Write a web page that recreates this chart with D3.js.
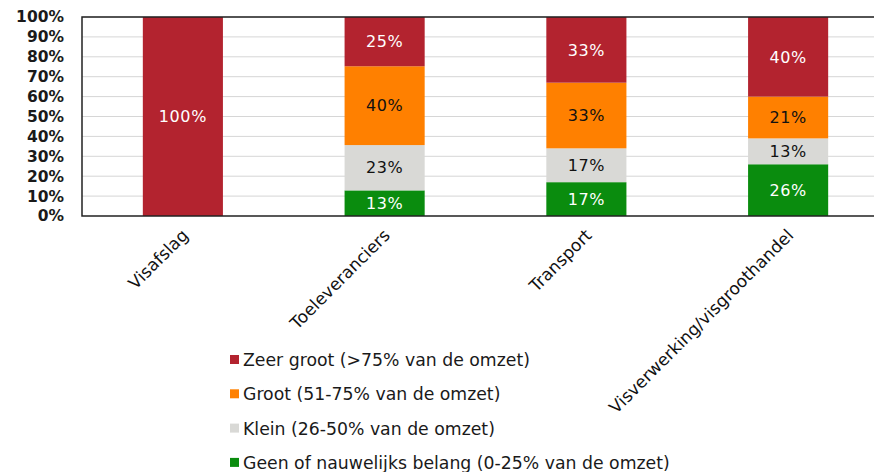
<!DOCTYPE html>
<html>
<head>
<meta charset="utf-8">
<script src="https://cdn.jsdelivr.net/npm/d3@7"></script>
<style>
  body { margin: 0; background: #fff; }
  svg { display: block; font-family: "DejaVu Sans", Verdana, sans-serif; }
</style>
</head>
<body>
<div id="chart"></div>
<script>
// categorieen en reeksen (percentages)
const categories = ["Visafslag", "Toeleveranciers", "Transport", "Visverwerking/visgroothandel"];
const seriesNames = [
    "Geen of nauwelijks belang (0-25% van de omzet)",
    "Klein (26-50% van de omzet)",
    "Groot (51-75% van de omzet)",
    "Zeer groot (>75% van de omzet)"
];
const geen = [0, 13, 17, 26];
const klein = [0, 23, 17, 13];
const groot = [0, 40, 33, 21];
const zeerGroot = [100, 25, 33, 40];
const yTicks = [0, 10, 20, 30, 40, 50, 60, 70, 80, 90, 100];

const colors = ["#0a8c0e", "#d9d9d6", "#ff8000", "#b3232f"];
const labelColors = ["#fff", "#111", "#111", "#fff"];

const width = 874, height = 472;
const plotLeft = 82, plotTop = 17, plotBottom = 216, plotRight = 889;

const svg = d3.select("#chart").append("svg")
    .attr("width", width)
    .attr("height", height);

const rows = categories.map((c, i) => ({
    cat: c, s0: geen[i], s1: klein[i], s2: groot[i], s3: zeerGroot[i]
}));
const keys = ["s0", "s1", "s2", "s3"];
const stack = d3.stack().keys(keys).offset(d3.stackOffsetExpand);
const layers = stack(rows);

const x = d3.scaleBand()
    .domain(categories)
    .range([plotLeft, plotRight])
    .paddingInner(0.603)
    .paddingOuter(0.3015);

const y = d3.scaleLinear().domain([0, 1]).range([plotBottom, plotTop]);

// rasterlijnen
svg.append("g")
    .selectAll("line")
    .data(yTicks.slice(1))
    .enter().append("line")
    .attr("x1", plotLeft).attr("x2", width)
    .attr("y1", d => y(d / 100)).attr("y2", d => y(d / 100))
    .attr("stroke", "#d6d6d6")
    .attr("stroke-width", 1);

// staven
const layerG = svg.append("g")
    .selectAll("g")
    .data(layers)
    .enter().append("g")
    .attr("fill", (d, i) => colors[i]);

layerG.selectAll("rect")
    .data(d => d)
    .enter().append("rect")
    .attr("x", d => x(d.data.cat))
    .attr("width", x.bandwidth())
    .attr("y", d => y(d[1]))
    .attr("height", d => y(d[0]) - y(d[1]));

// waardelabels
layers.forEach((layer, li) => {
    svg.append("g")
        .selectAll("text")
        .data(layer.filter(d => d.data[keys[li]] > 0))
        .enter().append("text")
        .attr("x", d => x(d.data.cat) + x.bandwidth() / 2)
        .attr("y", d => (y(d[0]) + y(d[1])) / 2)
        .attr("dy", "0.36em")
        .attr("text-anchor", "middle")
        .attr("font-size", 16)
        .attr("letter-spacing", 0.6)
        .attr("fill", labelColors[li])
        .text(d => d.data[keys[li]] + "%");
});

// kader (boven, links, onder)
svg.append("path")
    .attr("d", `M${width},${plotTop}H${plotLeft}V${plotBottom}H${width}`)
    .attr("fill", "none")
    .attr("stroke", "#222")
    .attr("stroke-width", 1.5);

// y-as
const yAxis = d3.axisLeft(y)
    .tickValues(yTicks.map(d => d / 100))
    .tickFormat(d => Math.round(d * 100) + "%")
    .tickSize(0)
    .tickPadding(18);

svg.append("g")
    .attr("transform", `translate(${plotLeft},0)`)
    .call(yAxis)
    .call(g => g.select(".domain").remove())
    .selectAll("text")
    .attr("font-family", "DejaVu Sans, sans-serif")
    .attr("font-size", 15.5)
    .attr("font-weight", "bold")
    .attr("fill", "#1a1a1a");

// x-labels, gedraaid
svg.append("g")
    .selectAll("text")
    .data(categories)
    .enter().append("text")
    .attr("transform", d => `translate(${x(d) + x.bandwidth() / 2 - 2},${plotBottom + 12}) rotate(-45)`)
    .attr("text-anchor", "end")
    .attr("dy", "0.7em")
    .attr("font-size", 17)
    .attr("fill", "#111")
    .text(d => d);

// legenda
const legendOrder = [3, 2, 1, 0];
const legend = svg.append("g")
    .selectAll("g")
    .data(legendOrder)
    .enter().append("g")
    .attr("transform", (d, i) => `translate(230,${360 + i * 34.3})`);

legend.append("rect")
    .attr("x", 0).attr("y", -5)
    .attr("width", 9).attr("height", 9)
    .attr("fill", d => colors[d]);

legend.append("text")
    .attr("x", 13)
    .attr("dy", "0.35em")
    .attr("font-size", 17.3)
    .attr("fill", "#1a1a1a")
    .text(d => seriesNames[d]);
</script>
</body>
</html>
